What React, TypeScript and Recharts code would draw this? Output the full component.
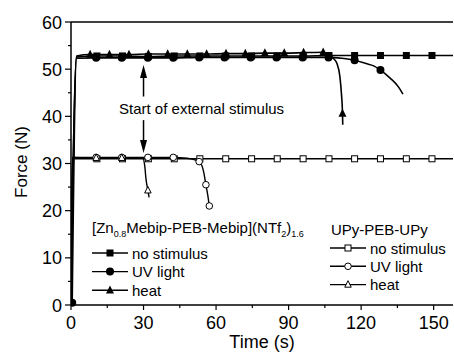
import { LineChart, Line, XAxis, YAxis, ReferenceLine, ReferenceDot, Legend } from 'recharts'

type Pt = { t: number; f: number; m?: number }
type Kind = 'sq' | 'ci' | 'tri' | 'osq' | 'oci' | 'otri'

const FONT = '"Liberation Sans", Arial, sans-serif'

const xTicks = [0, 15, 30, 45, 60, 75, 90, 105, 120, 135, 150]
const yTicks = [0, 5, 10, 15, 20, 25, 30, 35, 40, 45, 50, 55, 60]

// [Zn0.8Mebip-PEB-Mebip](NTf2)1.6
const znNone: Pt[] = [
  { t: 0, f: 0.3 }, { t: 2.3, f: 52.6 }, { t: 10.7, f: 52.8, m: 1 }, { t: 21.3, f: 52.8, m: 1 },
  { t: 32, f: 52.7, m: 1 }, { t: 42.7, f: 52.8, m: 1 }, { t: 53.3, f: 52.8, m: 1 }, { t: 64, f: 52.8, m: 1 },
  { t: 74.7, f: 52.8, m: 1 }, { t: 85.3, f: 52.8, m: 1 }, { t: 96, f: 52.8, m: 1 }, { t: 106.7, f: 52.9, m: 1 },
  { t: 117.3, f: 52.9, m: 1 }, { t: 128, f: 52.9, m: 1 }, { t: 138.7, f: 52.9, m: 1 }, { t: 149.3, f: 52.9, m: 1 },
  { t: 158, f: 52.9 },
]
const znUv: Pt[] = [
  { t: 0.5, f: 0.5, m: 1 }, { t: 2.3, f: 52.3 }, { t: 10.4, f: 52.4, m: 1 }, { t: 21, f: 52.4, m: 1 },
  { t: 31.8, f: 52.4, m: 1 }, { t: 42.3, f: 52.4, m: 1 }, { t: 53, f: 52.5, m: 1 }, { t: 63.5, f: 52.5, m: 1 },
  { t: 74.3, f: 52.5, m: 1 }, { t: 85, f: 52.5, m: 1 }, { t: 95.8, f: 52.5, m: 1 }, { t: 106.5, f: 52.5, m: 1 },
  { t: 112, f: 52.3 }, { t: 117.3, f: 51.9, m: 1 }, { t: 122, f: 51.2 }, { t: 125.2, f: 50.7 },
  { t: 128, f: 49.8, m: 1 }, { t: 132, f: 48.1 }, { t: 135.5, f: 46.2 }, { t: 137.3, f: 44.7 },
]
const znHeat: Pt[] = [
  { t: 0, f: 0.3 }, { t: 2.3, f: 52.8 }, { t: 7.9, f: 53.1, m: 1 }, { t: 15.9, f: 53.1, m: 1 },
  { t: 24, f: 53.1, m: 1 }, { t: 32, f: 53.2, m: 1 }, { t: 40, f: 53.2, m: 1 }, { t: 48.1, f: 53.2, m: 1 },
  { t: 56.1, f: 53.2, m: 1 }, { t: 64.1, f: 53.3, m: 1 }, { t: 72.1, f: 53.3, m: 1 }, { t: 80.2, f: 53.4, m: 1 },
  { t: 88.2, f: 53.4, m: 1 }, { t: 96.2, f: 53.5, m: 1 }, { t: 104.3, f: 53.6, m: 1 }, { t: 106.5, f: 53.1 },
  { t: 108.5, f: 52.3 }, { t: 110, f: 51.2 }, { t: 111.2, f: 48.5 }, { t: 111.9, f: 44.5 },
  { t: 112.3, f: 40.6, m: 1 }, { t: 112.4, f: 38.2 },
]

// UPy-PEB-UPy
const upNone: Pt[] = [
  { t: 0, f: 0.3 }, { t: 0.6, f: 31.0 }, { t: 10.7, f: 31.0, m: 1 }, { t: 21.3, f: 31.0, m: 1 },
  { t: 32, f: 31.0, m: 1 }, { t: 42.7, f: 31.0, m: 1 }, { t: 53.3, f: 31.0, m: 1 }, { t: 64, f: 31.0, m: 1 },
  { t: 74.7, f: 31.0, m: 1 }, { t: 85.3, f: 31.0, m: 1 }, { t: 96, f: 31.0, m: 1 }, { t: 106.7, f: 31.0, m: 1 },
  { t: 117.3, f: 31.0, m: 1 }, { t: 128, f: 31.0, m: 1 }, { t: 138.7, f: 31.0, m: 1 }, { t: 149.3, f: 31.0, m: 1 },
  { t: 158, f: 31.0 },
]
const upUv: Pt[] = [
  { t: 0, f: 0.3 }, { t: 0.6, f: 31.3 }, { t: 10.4, f: 31.3, m: 1 }, { t: 21, f: 31.3, m: 1 },
  { t: 31.8, f: 31.3, m: 1 }, { t: 42.3, f: 31.3, m: 1 }, { t: 48, f: 31.1 }, { t: 53, f: 30.4, m: 1 },
  { t: 54.8, f: 28.4 }, { t: 55.8, f: 25.5, m: 1 }, { t: 56.6, f: 23.2 }, { t: 57.2, f: 21.0, m: 1 },
]
const upHeat: Pt[] = [
  { t: 0, f: 0.3 }, { t: 0.6, f: 31.3 }, { t: 10.4, f: 31.2, m: 1 }, { t: 21, f: 31.2, m: 1 },
  { t: 29.6, f: 31.2 }, { t: 30.5, f: 29.5 }, { t: 31, f: 26.8 }, { t: 31.8, f: 24.3, m: 1 }, { t: 32.3, f: 22.8 },
]

const series: { id: string; name: string; data: Pt[]; kind: Kind }[] = [
  { id: 'upNone', name: 'no stimulus', data: upNone, kind: 'osq' },
  { id: 'upUv', name: 'UV light', data: upUv, kind: 'oci' },
  { id: 'upHeat', name: 'heat', data: upHeat, kind: 'otri' },
  { id: 'znNone', name: 'no stimulus', data: znNone, kind: 'sq' },
  { id: 'znUv', name: 'UV light', data: znUv, kind: 'ci' },
  { id: 'znHeat', name: 'heat', data: znHeat, kind: 'tri' },
]

function Marker({ kind, cx, cy }: { kind: Kind; cx: number; cy: number }) {
  const open = kind.startsWith('o')
  const fill = open ? '#fff' : '#000'
  const sw = open ? 1 : 0
  if (kind === 'sq' || kind === 'osq') {
    const s = open ? 6 : 7
    return <rect x={cx - s / 2} y={cy - s / 2} width={s} height={s} fill={fill} stroke="#000" strokeWidth={sw} />
  }
  if (kind === 'ci' || kind === 'oci') {
    return <circle cx={cx} cy={cy} r={open ? 3.3 : 4} fill={fill} stroke="#000" strokeWidth={sw} />
  }
  const h = open ? 6.5 : 8
  return (
    <polygon
      points={`${cx},${cy - h * 0.6} ${cx - h / 2},${cy + h * 0.4} ${cx + h / 2},${cy + h * 0.4}`}
      fill={fill}
      stroke="#000"
      strokeWidth={sw}
    />
  )
}

const makeDot = (kind: Kind) => (p: any) => {
  const key = `${kind}-${p.index}`
  if (!p.payload || !p.payload.m) return <g key={key} />
  return <Marker key={key} kind={kind} cx={p.cx} cy={p.cy} />
}

function XTick(props: any) {
  const { x, y, payload } = props
  const major = payload.value % 30 === 0
  return (
    <g>
      <line x1={x} x2={x} y1={y} y2={y + (major ? 5 : 3)} stroke="#000" strokeWidth={1.2} />
      {major && (
        <text x={x} y={y + 24} textAnchor="middle" fontSize={18} fontFamily={FONT} fill="#000">
          {payload.value}
        </text>
      )}
    </g>
  )
}

function YTick(props: any) {
  const { x, y, payload } = props
  const major = payload.value % 10 === 0
  return (
    <g>
      <line x1={x - (major ? 6 : 3)} x2={x} y1={y} y2={y} stroke="#000" strokeWidth={1.2} />
      {major && (
        <text x={x - 9} y={y + 6.5} textAnchor="end" fontSize={18} fontFamily={FONT} fill="#000">
          {payload.value}
        </text>
      )}
    </g>
  )
}

function LegendEntry({ x, y, kind, label }: { x: number; y: number; kind: Kind; label: string }) {
  return (
    <g>
      <line x1={x} x2={x + 36} y1={y} y2={y} stroke="#000" strokeWidth={1.4} />
      <Marker kind={kind} cx={x + 18} cy={y} />
      <text x={x + 40} y={y + 5.5} fontSize={15} fontFamily={FONT} fill="#000">{label}</text>
    </g>
  )
}

function LegendContent() {
  const zn = series.filter((s) => s.id.startsWith('zn'))
  const up = series.filter((s) => s.id.startsWith('up'))
  return (
    <svg width={454} height={352} style={{ position: 'absolute', left: 0, top: 0 }}>
      <text x={92} y={233} fontSize={15} fontFamily={FONT} fill="#000">
        [Zn<tspan fontSize={9} dy={4}>0.8</tspan>
        <tspan dy={-4}>Mebip-PEB-Mebip](NTf</tspan>
        <tspan fontSize={9} dy={4}>2</tspan>
        <tspan dy={-4}>)</tspan>
        <tspan fontSize={9} dy={4}>1.6</tspan>
      </text>
      {zn.map((s, i) => (
        <LegendEntry key={s.id} x={92} y={253 + i * 18.6} kind={s.kind} label={s.name} />
      ))}
      <text x={331} y={235} fontSize={15} fontFamily={FONT} fill="#000">UPy-PEB-UPy</text>
      {up.map((s, i) => (
        <LegendEntry key={s.id} x={330} y={248 + i * 18.3} kind={s.kind} label={s.name} />
      ))}
    </svg>
  )
}

const arrowUp = (p: any) => (
  <polygon points={`${p.cx},${p.cy} ${p.cx - 3.5},${p.cy + 13} ${p.cx + 3.5},${p.cy + 13}`} fill="#000" />
)
const arrowDown = (p: any) => (
  <polygon points={`${p.cx},${p.cy} ${p.cx - 3.5},${p.cy - 13} ${p.cx + 3.5},${p.cy - 13}`} fill="#000" />
)
const noteText = (p: any) => (
  <text x={p.cx} y={p.cy + 5} textAnchor="middle" fontSize={15} fontFamily={FONT} fill="#000">
    Start of external stimulus
  </text>
)

export default function App() {
  return (
    <div style={{ position: 'absolute', left: 0, top: 0, background: '#fff' }}>
      <LineChart width={454} height={352} margin={{ top: 22, right: 1, left: 0, bottom: 0 }}>
        <XAxis
          dataKey="t"
          type="number"
          domain={[0, 158]}
          ticks={xTicks}
          allowDataOverflow
          height={47}
          tickLine={false}
          tickSize={0}
          tickMargin={0}
          tick={<XTick />}
          axisLine={{ stroke: '#000', strokeWidth: 1.5 }}
          label={{
            content: () => (
              <text x={262} y={348} textAnchor="middle" fontSize={18} fontFamily={FONT} fill="#000">
                Time (s)
              </text>
            ),
          }}
        />
        <YAxis
          type="number"
          domain={[0, 60]}
          ticks={yTicks}
          width={71}
          tickLine={false}
          tickSize={0}
          tickMargin={0}
          tick={<YTick />}
          axisLine={{ stroke: '#000', strokeWidth: 1.5 }}
          label={{
            content: () => (
              <text
                transform="translate(21,162) rotate(-90)"
                textAnchor="middle"
                dominantBaseline="central"
                fontSize={17}
                fontFamily={FONT}
                fill="#000"
              >
                Force (N)
              </text>
            ),
          }}
        />
        <ReferenceLine y={60} stroke="#000" strokeWidth={1.5} />
        {series.map((s) => (
          <Line
            key={s.id}
            data={s.data}
            dataKey="f"
            name={s.name}
            type="monotone"
            stroke="#000"
            strokeWidth={s.id.startsWith('zn') ? 1.6 : 1.4}
            dot={makeDot(s.kind)}
            activeDot={false}
            isAnimationActive={false}
          />
        ))}
        <ReferenceLine segment={[{ x: 30, y: 44.2 }, { x: 30, y: 48.5 }]} stroke="#000" strokeWidth={1.5} />
        <ReferenceDot x={30} y={50.9} r={0} shape={arrowUp} />
        <ReferenceLine segment={[{ x: 30, y: 39.2 }, { x: 30, y: 34.5 }]} stroke="#000" strokeWidth={1.5} />
        <ReferenceDot x={30} y={32.2} r={0} shape={arrowDown} />
        <ReferenceDot x={54} y={41.6} r={0} shape={noteText} />
        <Legend
          layout="vertical"
          align="center"
          verticalAlign="middle"
          content={<LegendContent />}
          wrapperStyle={{ left: 0, top: 0, width: 454, height: 352, pointerEvents: 'none' }}
        />
      </LineChart>
    </div>
  )
}
